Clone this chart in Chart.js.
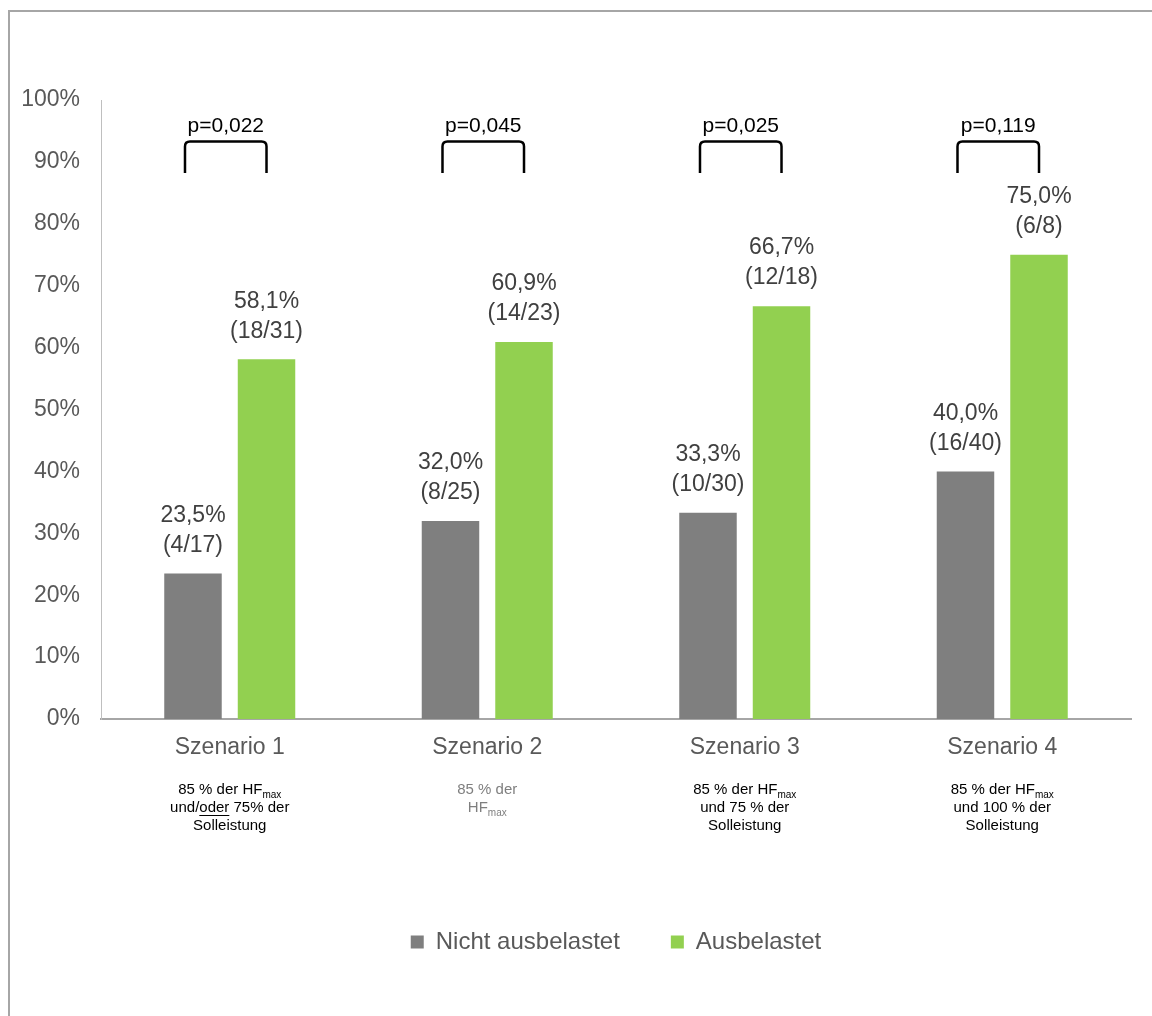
<!DOCTYPE html>
<html lang="de">
<head>
<meta charset="UTF-8">
<title>Ausbelastung nach Szenario</title>
<script src="https://cdn.jsdelivr.net/npm/chart.js"></script>
<style>
  html, body { margin: 0; padding: 0; background: #fff; overflow: hidden; }
  .frame { position: absolute; left: 8px; top: 10px; width: 1200px; height: 1100px;
           border-left: 2px solid #a6a6a6; border-top: 2px solid #a6a6a6; }
  .wrap { position: absolute; left: 0; top: 0; width: 1152px; height: 1016px; }
</style>
</head>
<body>
<div class="frame"></div>
<div class="wrap"><canvas id="chart" width="1152" height="1016"></canvas></div>
<script>
  const FONT = '"Liberation Sans", Arial, sans-serif';

  const categories = ['Szenario 1', 'Szenario 2', 'Szenario 3', 'Szenario 4'];
  const nichtValues = [23.5, 32.0, 33.3, 40.0];
  const ausValues = [58.1, 60.9, 66.7, 75.0];
  const nichtCounts = ['4/17', '8/25', '10/30', '16/40'];
  const ausCounts = ['18/31', '14/23', '12/18', '6/8'];
  const pValues = ['p=0,022', 'p=0,045', 'p=0,025', 'p=0,119'];
  // _{..} = subscript, <u>..</u> = underline
  const subLabels = [
    ['85 % der HF_{max}', 'und/<u>oder</u> 75% der', 'Solleistung'],
    ['85 % der', 'HF_{max}'],
    ['85 % der HF_{max}', 'und 75 % der', 'Solleistung'],
    ['85 % der HF_{max}', 'und 100 % der', 'Solleistung']
  ];
  const subLabelColors = ['#000000', '#7f7f7f', '#000000', '#000000'];
  const yTicks = [0, 10, 20, 30, 40, 50, 60, 70, 80, 90, 100];

  const fmt = v => v.toFixed(1).replace('.', ',') + '%';

  function parseLine(line) {
    const segs = [];
    const re = /_\{([^}]*)\}|<u>(.*?)<\/u>|([^_<]+|[_<])/g;
    let m;
    while ((m = re.exec(line)) !== null) {
      if (m[1] !== undefined) segs.push({ t: m[1], sub: true });
      else if (m[2] !== undefined) segs.push({ t: m[2], u: true });
      else segs.push({ t: m[3] });
    }
    return segs;
  }

  const annotate = {
    id: 'annotate',
    afterDatasetsDraw(chart) {
      const { ctx, chartArea, scales: { x, y } } = chart;
      const m0 = chart.getDatasetMeta(0), m1 = chart.getDatasetMeta(1);
      ctx.save();

      // value labels above bars
      ctx.font = '23px ' + FONT;
      ctx.fillStyle = '#404040';
      ctx.textAlign = 'center';
      ctx.textBaseline = 'middle';
      [[m0, nichtValues, nichtCounts], [m1, ausValues, ausCounts]].forEach(([meta, vals, counts]) => {
        meta.data.forEach((bar, i) => {
          ctx.fillText(fmt(vals[i]), bar.x, bar.y - 58);
          ctx.fillText('(' + counts[i] + ')', bar.x, bar.y - 28);
        });
      });

      // significance brackets
      const top = y.getPixelForValue(93.3);
      const foot = y.getPixelForValue(88.2);
      const r = 5;
      ctx.strokeStyle = '#000';
      ctx.lineWidth = 2.5;
      ctx.fillStyle = '#000';
      ctx.font = '21px ' + FONT;
      ctx.textBaseline = 'alphabetic';
      categories.forEach((c, i) => {
        const l = m0.data[i].x - 8, rr = m1.data[i].x;
        ctx.beginPath();
        ctx.moveTo(l, foot);
        ctx.lineTo(l, top + r);
        ctx.quadraticCurveTo(l, top, l + r, top);
        ctx.lineTo(rr - r, top);
        ctx.quadraticCurveTo(rr, top, rr, top + r);
        ctx.lineTo(rr, foot);
        ctx.stroke();
        ctx.fillText(pValues[i], (l + rr) / 2, top - 9);
      });

      // scenario descriptions under the axis labels
      ctx.textBaseline = 'middle';
      ctx.textAlign = 'left';
      subLabels.forEach((lines, i) => {
        const cx = x.getPixelForValue(i);
        ctx.fillStyle = subLabelColors[i];
        ctx.strokeStyle = subLabelColors[i];
        ctx.lineWidth = 1;
        lines.forEach((line, k) => {
          const ly = chartArea.bottom + 71 + k * 18;
          const segs = parseLine(line);
          let w = 0;
          segs.forEach(s => {
            ctx.font = (s.sub ? '10px ' : '15px ') + FONT;
            s.w = ctx.measureText(s.t).width;
            w += s.w;
          });
          let px = cx - w / 2;
          segs.forEach(s => {
            ctx.font = (s.sub ? '10px ' : '15px ') + FONT;
            ctx.fillText(s.t, px, s.sub ? ly + 5 : ly);
            if (s.u) {
              ctx.beginPath();
              ctx.moveTo(px, ly + 7.5);
              ctx.lineTo(px + s.w, ly + 7.5);
              ctx.stroke();
            }
            px += s.w;
          });
        });
      });
      ctx.restore();
    }
  };

  new Chart(document.getElementById('chart'), {
    type: 'bar',
    data: {
      labels: categories,
      datasets: [
        { label: 'Nicht ausbelastet', data: nichtValues, backgroundColor: '#7f7f7f',
          categoryPercentage: 0.571, barPercentage: 0.782 },
        { label: 'Ausbelastet', data: ausValues, backgroundColor: '#92d050',
          categoryPercentage: 0.571, barPercentage: 0.782 }
      ]
    },
    options: {
      responsive: false,
      animation: false,
      devicePixelRatio: 1,
      layout: { padding: { top: 100, right: 21, bottom: 52, left: 0 } },
      plugins: {
        tooltip: { enabled: false },
        legend: {
          position: 'bottom',
          fullSize: false,
          labels: {
            boxWidth: 13, boxHeight: 13, padding: 51,
            color: '#595959', font: { size: 24, family: FONT }
          }
        }
      },
      scales: {
        x: {
          grid: { display: false, drawTicks: false },
          border: { display: true, color: '#a6a6a6', width: 2 },
          ticks: { color: '#595959', font: { size: 23, family: FONT }, padding: 15 },
          afterFit: s => { s.height = 160; }
        },
        y: {
          min: 0, max: 100,
          afterBuildTicks: s => { s.ticks = yTicks.map(v => ({ value: v })); },
          grid: { display: false, drawTicks: false },
          border: { display: true, color: '#bfbfbf', width: 1 },
          ticks: { color: '#595959', font: { size: 23, family: FONT }, padding: 21,
                   callback: v => v + '%' },
          afterFit: s => { s.width = 101; }
        }
      }
    },
    plugins: [annotate]
  });
</script>
</body>
</html>
